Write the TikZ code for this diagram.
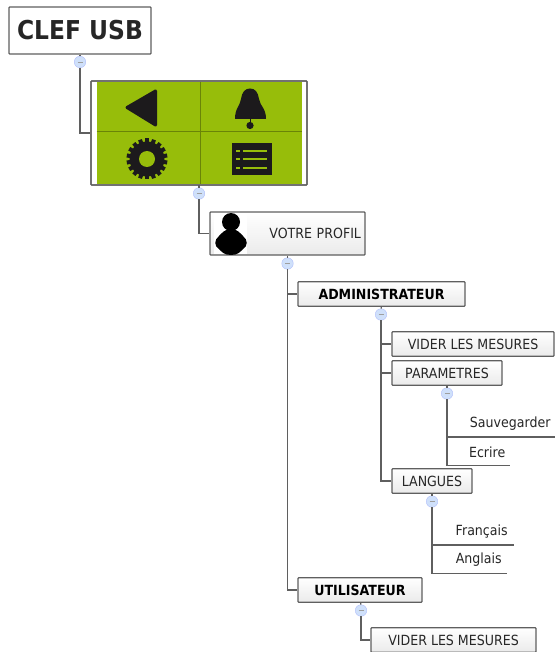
\documentclass[tikz,border=0pt]{standalone}
\usepackage{fontspec}
\setmainfont[FakeStretch=0.9]{DejaVu Sans}
\definecolor{linegray}{HTML}{5F5F5F}
\definecolor{panelgreen}{HTML}{97BD0A}
\definecolor{togglefill}{HTML}{CFE0FA}
\definecolor{iconblack}{HTML}{1C1A1C}
\tikzset{
    link/.style={draw=linegray, line width=1.2pt},
    toggle/.style={circle, draw=togglefill!85!blue, fill=togglefill, line width=0.4pt, minimum size=11.5pt, inner sep=0pt,
        path picture={\draw[linegray!60, line width=0.6pt] (-2.5,0) -- (2.5,0);}},
    topic/.style={draw=linegray, line width=1.2pt, rounded corners=0.8pt, top color=white, bottom color=black!8,
        inner sep=0pt, minimum height=24.5pt, text=black!85, font=\fontsize{14}{16}\selectfont},
    leaf/.style={anchor=south west, inner sep=0pt, minimum height=27pt, text=black!85, font=\fontsize{14}{16}\selectfont},
}
\begin{document}
\begin{tikzpicture}[x=1pt, y=-1pt]
    \useasboundingbox (0,0) rectangle (555,652);

    % Root
    \node[topic, top color=white, bottom color=white, minimum width=142pt, minimum height=47pt,
        font=\fontsize{26}{30}\selectfont\bfseries] (clef) at (80,30.5) {CLEF USB};
    \node[toggle] (tclef) at (80,62) {};

    % Panel with the four icons
    \node[topic, top color=white, bottom color=white, minimum width=216pt, minimum height=104pt] (panel) at (199,133) {};
    \fill[panelgreen] (96.5,82) rectangle (302,184.5);
    \draw[panelgreen!70!black, line width=0.5pt] (200.5,82) -- (200.5,184.5);
    \draw[panelgreen!70!black, line width=0.5pt] (96.5,131.5) -- (302,131.5);
    \draw[linegray, line width=1.2pt, rounded corners=0.8pt] (91,81) rectangle (307,185);
    \node[toggle] (tpanel) at (199,193.5) {};
    % Back arrow
    \filldraw[iconblack, line width=3pt, line join=round] (127,107.5) -- (155.5,91) -- (155.5,125) -- cycle;
    % Bell
    \fill[iconblack] (235,119) .. controls (235,108) and (240,106) .. (241,99)
        .. controls (242,92) and (245,88.5) .. (250,88.5) .. controls (255,88.5) and (258,92) .. (259,99)
        .. controls (260,106) and (266,108) .. (266,119) -- cycle;
    \fill[iconblack] (250,125.5) circle (3.6);
    \draw[iconblack, line width=1pt] (250,119) -- (250,124);
    % Gear
    \fill[iconblack] (147,159) circle (17.5);
    \foreach \a in {0,20,...,340}
        \fill[iconblack, rotate around={\a:(147,159)}] (145,138.5) rectangle (149,145);
    \fill[panelgreen] (147,159) circle (8);
    % List
    \fill[iconblack] (232,143.5) rectangle (272,175.5);
    \foreach \y in {151,159.5,168} {
        \fill[panelgreen] (236,\y-1) rectangle (240,\y+1);
        \fill[panelgreen] (243,\y-1) rectangle (267,\y+1);
    }

    % Profile
    \node[topic, minimum width=155pt, minimum height=43pt, text width=147pt, align=right] (profil) at (287.5,233.5) {VOTRE PROFIL};
    \fill[white] (214,214) rectangle (247,254);
    \fill[black] (231,222) circle (9);
    \fill[black] (231,229) .. controls (225,229) and (222,233) .. (219,236)
        .. controls (214,240) and (214,246) .. (219,249) .. controls (222,252) and (224,255) .. (231,255)
        .. controls (238,255) and (240,252) .. (243,249) .. controls (248,246) and (248,240) .. (243,236)
        .. controls (240,233) and (237,229) .. (231,229) -- cycle;
    \node[toggle] (tprofil) at (287.5,263.5) {};

    % Administrateur
    \node[topic, minimum width=167pt, font=\fontsize{14}{16}\selectfont\bfseries, text=black] (admin) at (381.5,294) {ADMINISTRATEUR};
    \node[toggle] (tadmin) at (381,314.5) {};
    \node[topic, minimum width=162pt] (vider) at (473,344) {VIDER LES MESURES};
    \node[topic, minimum width=110pt] (param) at (447,373) {PARAMETRES};
    \node[toggle] (tparam) at (447,393.5) {};
    \node[leaf, minimum width=108pt] (sauve) at (447,437) {\hspace*{18pt}Sauvegarder\hfill};
    \node[leaf, minimum width=63pt] (ecrire) at (447,465.5) {\hspace*{17pt}Ecrire\hfill};
    \node[topic, minimum width=80pt] (langues) at (432,481) {LANGUES};
    \node[toggle] (tlangues) at (432,501.5) {};
    \node[leaf, minimum width=82pt] (francais) at (432,545) {\hspace*{17pt}Français\hfill};
    \node[leaf, minimum width=75pt] (anglais) at (432,573.5) {\hspace*{18pt}Anglais\hfill};

    % Utilisateur
    \node[topic, minimum width=124pt, font=\fontsize{14}{16}\selectfont\bfseries, text=black] (util) at (360,590) {UTILISATEUR};
    \node[toggle] (tutil) at (361,610.5) {};
    \node[topic, minimum width=165pt] (vider2) at (453.5,640) {VIDER LES MESURES};

    % Links
    \draw[link] (clef) -- (tclef);
    \draw[link] (tclef) |- (panel.west);
    \draw[link] (panel) ++(0,52) -- (tpanel);
    \draw[link] (tpanel) |- (profil.west);
    \draw[link] (profil) -- (tprofil);
    \draw[link] (tprofil) |- (admin.west);
    \draw[link] (tprofil) |- (util.west);
    \draw[link] (admin) -- (tadmin);
    \draw[link] (tadmin) |- (vider.west);
    \draw[link] (tadmin) |- (param.west);
    \draw[link] (tadmin) |- (langues.west);
    \draw[link] (param) -- (tparam);
    \draw[link] (tparam) |- (sauve.south east);
    \draw[link] (tparam) |- (ecrire.south east);
    \draw[link] (langues) -- (tlangues);
    \draw[link] (tlangues) |- (francais.south east);
    \draw[link] (tlangues) |- (anglais.south east);
    \draw[link] (util) -- (tutil);
    \draw[link] (tutil) |- (vider2.west);
\end{tikzpicture}
\end{document}
